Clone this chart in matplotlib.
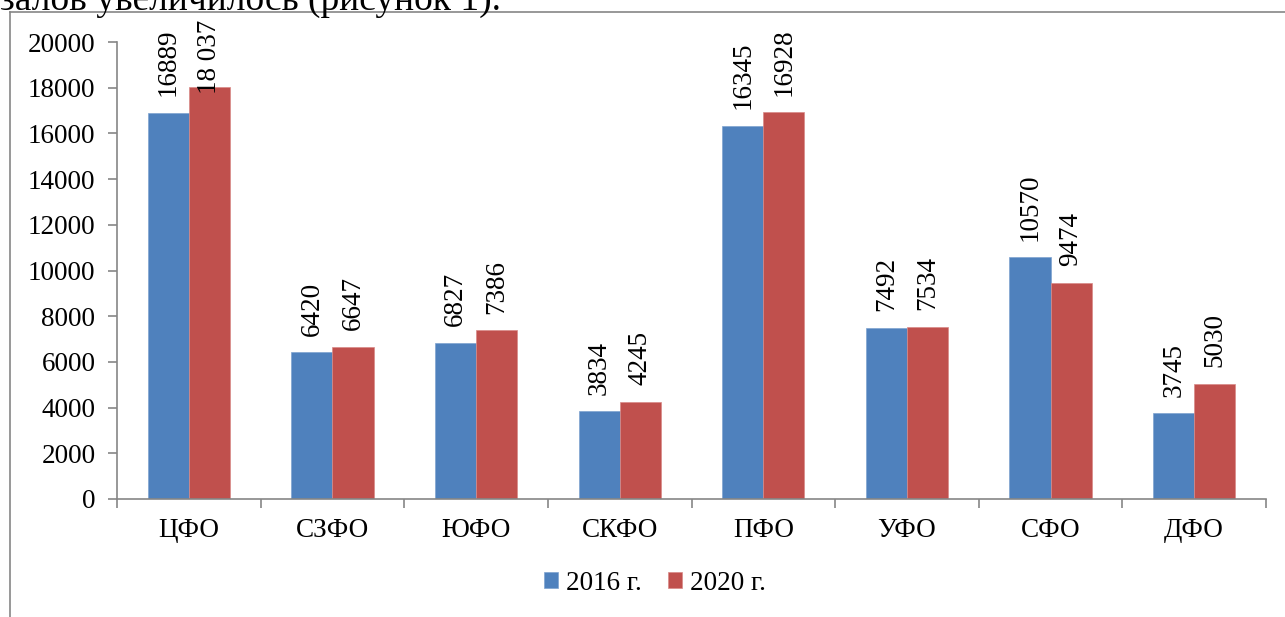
import matplotlib.pyplot as plt
from matplotlib.lines import Line2D
import numpy as np

plt.rcParams['font.family'] = ['Liberation Serif', 'DejaVu Serif']

# Data
districts = ['ЦФО', 'СЗФО', 'ЮФО', 'СКФО', 'ПФО', 'УФО', 'СФО', 'ДФО']
values_2016 = [16889, 6420, 6827, 3834, 16345, 7492, 10570, 3745]
values_2020 = [18037, 6647, 7386, 4245, 16928, 7534, 9474, 5030]
labels_2016 = ['16889', '6420', '6827', '3834', '16345', '7492', '10570', '3745']
labels_2020 = ['18 037', '6647', '7386', '4245', '16928', '7534', '9474', '5030']
series_names = ['2016 г.', '2020 г.']
yticks = list(range(0, 20001, 2000))

blue = '#4F81BD'
red = '#C0504D'
axis_grey = '#868686'
fs = 19.5

fig = plt.figure(figsize=(12.85, 6.17), dpi=100)
ax = fig.add_axes([117 / 1285, 118 / 617, 1149 / 1285, 457 / 617])

x = np.arange(len(districts))
w = 0.286
b1 = ax.bar(x - w / 2, values_2016, w, color=blue, edgecolor='#7fa3d0', linewidth=0.5,
            label=series_names[0], zorder=2)
b2 = ax.bar(x + w / 2, values_2020, w, color=red, edgecolor='#d88a88', linewidth=0.5,
            label=series_names[1], zorder=2)

ax.set_xlim(-0.5, len(districts) - 0.5)
ax.set_ylim(0, 20000)
ax.set_yticks(yticks)
ax.set_yticklabels([str(t) for t in yticks], fontsize=fs)

# rotated value labels above the bars
annots = []
for bars, labels in ((b1, labels_2016), (b2, labels_2020)):
    for rect, lab in zip(bars, labels):
        a = ax.annotate(lab, (rect.get_x() + rect.get_width() / 2, rect.get_height()),
                        xytext=(0, 12), textcoords='offset points', rotation=90,
                        ha='center', va='bottom', fontsize=fs, annotation_clip=False)
        annots.append(a)

# keep labels inside the chart frame (like Excel pushes them down)
fig.canvas.draw()
renderer = fig.canvas.get_renderer()
limit = fig.bbox.height - 20
for a in annots:
    bb = a.get_window_extent(renderer)
    if bb.y1 > limit:
        dx, dy = a.xyann
        a.xyann = (dx, dy - (bb.y1 - limit) * 72 / fig.dpi)

# category boundaries as major ticks, names on minor ticks
ax.set_xticks(np.arange(len(districts) + 1) - 0.5)
ax.set_xticklabels([])
ax.set_xticks(x, minor=True)
ax.set_xticklabels(districts, minor=True, fontsize=fs)
ax.tick_params(axis='x', which='major', direction='out', length=6.5, color=axis_grey, width=1.2)
ax.tick_params(axis='x', which='minor', length=0, pad=14)
ax.tick_params(axis='y', direction='out', length=6.5, color=axis_grey, width=1.2, pad=9)

for s in ('top', 'right'):
    ax.spines[s].set_visible(False)
for s in ('left', 'bottom'):
    ax.spines[s].set_color(axis_grey)
    ax.spines[s].set_linewidth(1.2)

fig.legend(loc='center', bbox_to_anchor=(655 / 1285, 1 - 583 / 617), ncol=2, frameon=False,
           fontsize=fs, handlelength=0.5, handleheight=0.5, handletextpad=0.3,
           columnspacing=1.0)

# outer chart frame (cropped screenshot)
fig.add_artist(Line2D([10 / 1285, 10 / 1285], [0, 1 - 12 / 617], color=axis_grey, lw=1.2))
fig.add_artist(Line2D([10 / 1285, 1], [1 - 12 / 617, 1 - 12 / 617], color=axis_grey, lw=1.2))

# the cut-off line of body text above the chart
fig.text(0.0, 1 - 9.5 / 617, 'залов увеличилось (рисунок 1).', fontsize=27,
         ha='left', va='baseline')

fig.savefig('out.png', dpi=100)
